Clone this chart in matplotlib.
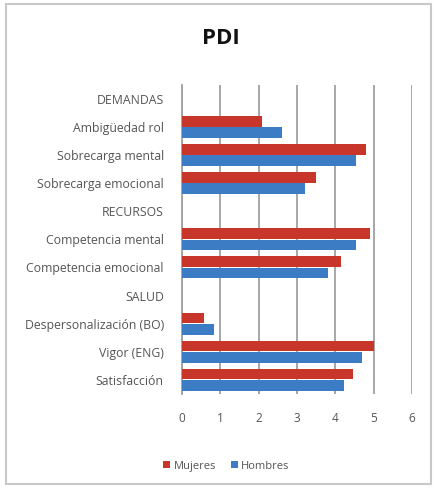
import numpy as np
import matplotlib.pyplot as plt
from matplotlib.patches import Rectangle

# PDI chart - Mujeres vs Hombres
categorias = ["DEMANDAS", "Ambigüedad rol", "Sobrecarga mental", "Sobrecarga emocional",
              "RECURSOS", "Competencia mental", "Competencia emocional",
              "SALUD", "Despersonalización (BO)", "Vigor (ENG)", "Satisfacción"]
mujeres = [np.nan, 2.1, 4.8, 3.5, np.nan, 4.9, 4.15, np.nan, 0.57, 5.0, 4.47]
hombres = [np.nan, 2.6, 4.55, 3.2, np.nan, 4.55, 3.8, np.nan, 0.85, 4.7, 4.23]
xticks = [0, 1, 2, 3, 4, 5, 6]

red = '#C7352B'
blue = '#3B7CC4'
txt = '#555555'
plt.rcParams['font.family'] = ['Open Sans', 'DejaVu Sans']

fig = plt.figure(figsize=(4.34, 4.88), dpi=100)
ax = fig.add_axes([0.419, 0.193, 0.53, 0.633])

y = np.arange(len(categorias))
h = 0.38
ax.barh(y - h/2 - 0.01, mujeres, height=h, color=red, label='Mujeres', zorder=3)
ax.barh(y + h/2 + 0.01, hombres, height=h, color=blue, label='Hombres', zorder=3)

ax.set_ylim(len(categorias) - 0.5, -0.5)
ax.set_xlim(0, 6)
ax.set_yticks(y)
ax.set_yticklabels(categorias, fontsize=8.8, color=txt)
ax.set_xticks(xticks)
ax.set_xticklabels([str(t) for t in xticks], fontsize=8.5, color=txt)
ax.tick_params(length=0, axis='y', pad=13)
ax.tick_params(length=0, axis='x', pad=13)

ax.grid(axis='x', color='#a0a0a0', linewidth=1.3, zorder=0)
for s in ['top', 'right', 'bottom']:
    ax.spines[s].set_visible(False)
ax.spines['left'].set_color('#a0a0a0')
ax.spines['left'].set_linewidth(1.3)

fig.text(0.51, 0.922, "PDI", fontsize=16, fontweight='bold', ha='center', va='center', color='#111111')

# outer frame
fig.patches.append(Rectangle((0.014, 0.008), 0.98, 0.984, transform=fig.transFigure,
                             fill=False, edgecolor='#c8c8c8', linewidth=1.5))

fig.legend(loc='center', bbox_to_anchor=(0.522, 0.045), ncol=2, frameon=False,
           fontsize=8, handlelength=0.6, handleheight=0.6, handletextpad=0.3,
           columnspacing=1.4, labelcolor=txt)

plt.savefig('out.png', dpi=100)
